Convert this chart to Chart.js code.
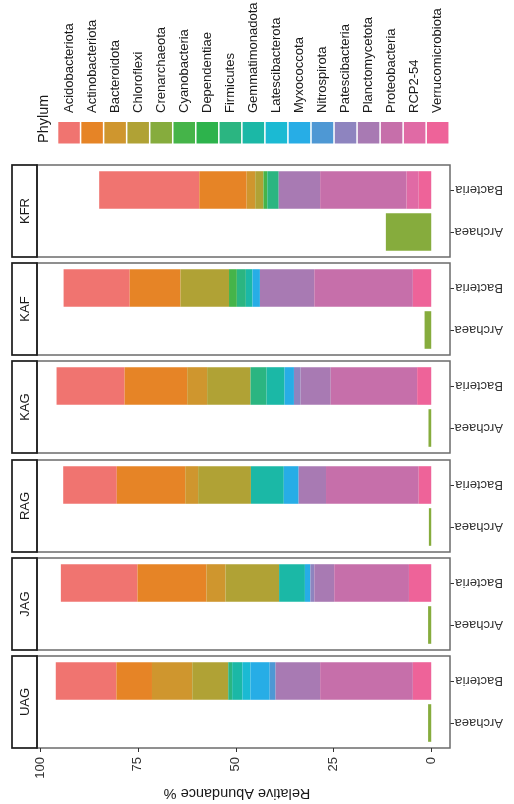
<!DOCTYPE html>
<html>
<head>
<meta charset="utf-8">
<script src="https://cdn.jsdelivr.net/npm/chart.js@4.4.1/dist/chart.umd.min.js"></script>
<style>
  html, body { margin: 0; padding: 0; background: #fff; }
  #wrap { position: relative; width: 514px; height: 804px; overflow: hidden; }
  #wrap canvas { position: absolute; left: 0; }
</style>
</head>
<body>
<div id="wrap"></div>
<script>
// phyla in legend order
const phyla = ['Acidobacteriota', 'Actinobacteriota', 'Bacteroidota', 'Chloroflexi', 'Crenarchaeota',
  'Cyanobacteria', 'Dependentiae', 'Firmicutes', 'Gemmatimonadota', 'Latescibacterota', 'Myxococcota',
  'Nitrospirota', 'Patescibacteria', 'Planctomycetota', 'Proteobacteria', 'RCP2-54', 'Verrucomicrobiota'];
const phylumColors = ['#F07470', '#E68426', '#CF962E', '#B0A235', '#86AC3D', '#45B449', '#2DB34C',
  '#2BB581', '#1BB8A6', '#1BBAD3', '#27ADE6', '#4E98D4', '#8E84BF', '#A87AB3', '#C66FAA', '#E06AA5', '#EE6399'];

// facets, top to bottom
const sites = ['KFR', 'KAF', 'KAG', 'RAG', 'JAG', 'UAG'];
const domains = ['Bacteria', 'Archaea'];
const xTicks = [0, 25, 50, 75, 100];

// bacterial relative abundance % per phylum (same order as phyla)
const bacteriaKFR = [25.6, 12.1, 2.2, 2.1, 0, 1.0, 0, 2.9, 0, 0, 0, 0, 0, 10.6, 22.1, 3.1, 3.2];
const bacteriaKAF = [16.9, 13.0, 0, 12.4, 0, 2.0, 0, 2.3, 1.7, 0, 1.9, 0, 0, 13.9, 25.2, 0, 4.7];
const bacteriaKAG = [17.4, 16.0, 5.1, 11.1, 0, 0, 0, 4.1, 4.6, 0, 2.4, 0, 1.7, 7.7, 22.1, 0, 3.6];
const bacteriaRAG = [13.7, 17.5, 3.3, 13.5, 0, 0, 0, 0, 8.4, 0, 3.8, 0, 0, 7.0, 23.7, 0, 3.2];
const bacteriaJAG = [19.6, 17.6, 4.9, 13.7, 0, 0, 0, 0, 6.6, 0, 1.4, 0, 1.0, 5.1, 19.1, 0, 5.7];
const bacteriaUAG = [15.5, 9.1, 10.3, 9.2, 0, 0, 0, 1.0, 2.6, 2.1, 4.9, 1.5, 0, 11.4, 23.7, 0, 4.7];
const bacteria = [bacteriaKFR, bacteriaKAF, bacteriaKAG, bacteriaRAG, bacteriaJAG, bacteriaUAG];

// archaea are all Crenarchaeota (same order as sites)
const archaeaCrenarchaeota = [11.6, 1.7, 0.7, 0.6, 0.8, 0.8];

const FONT = '"Liberation Sans", Arial, sans-serif';
Chart.defaults.font.family = FONT;

const panelTops = [165, 263, 361, 460, 558, 656];

const facetPlugin = {
  id: 'facet',
  afterDraw(chart, args, opts) {
    const ctx = chart.ctx, a = chart.chartArea;
    const top = a.top - 4, h = a.bottom - a.top + 8;
    ctx.save();
    ctx.strokeStyle = '#6b6b6b';
    ctx.lineWidth = 1.5;
    ctx.strokeRect(a.left, top, a.right - a.left, h);
    ctx.strokeStyle = '#1a1a1a';
    ctx.lineWidth = 1.7;
    ctx.strokeRect(12, top, a.left - 12, h);
    ctx.translate((12 + a.left) / 2, top + h / 2);
    ctx.rotate(-Math.PI / 2);
    ctx.fillStyle = '#1a1a1a';
    ctx.font = '13px ' + FONT;
    ctx.textAlign = 'center';
    ctx.textBaseline = 'middle';
    ctx.fillText(opts.label, 0, 1);
    ctx.restore();

    if (opts.axisTitle) {
      const sx = chart.scales.x;
      ctx.save();
      ctx.strokeStyle = '#333';
      ctx.lineWidth = 1;
      xTicks.forEach(v => {
        const px = Math.round(sx.getPixelForValue(v)) + 0.5;
        ctx.beginPath();
        ctx.moveTo(px, a.bottom + 4);
        ctx.lineTo(px, a.bottom + 8);
        ctx.stroke();
      });
      ctx.translate(237, 793 - opts.pageTop);
      ctx.rotate(Math.PI);
      ctx.fillStyle = '#1a1a1a';
      ctx.font = '14.5px ' + FONT;
      ctx.textAlign = 'center';
      ctx.textBaseline = 'middle';
      ctx.fillText('Relative Abundance %', 0, 0);
      ctx.restore();
    }

    if (opts.legend) {
      ctx.save();
      ctx.fillStyle = '#1a1a1a';
      ctx.font = '14.5px ' + FONT;
      ctx.textBaseline = 'middle';
      ctx.textAlign = 'left';
      ctx.translate(44, 143);
      ctx.rotate(-Math.PI / 2);
      ctx.fillText('Phylum', 0, 0);
      ctx.restore();
      phyla.forEach((name, k) => {
        const x0 = 58.3 + k * 23.04;
        ctx.save();
        ctx.fillStyle = phylumColors[k];
        ctx.fillRect(x0, 122, 21.5, 21.5);
        ctx.translate(x0 + 10.75, 113);
        ctx.rotate(-Math.PI / 2);
        ctx.fillStyle = '#1a1a1a';
        ctx.font = '13px ' + FONT;
        ctx.textAlign = 'left';
        ctx.textBaseline = 'middle';
        ctx.fillText(name, 0, 0);
        ctx.restore();
      });
    }
  }
};

const wrap = document.getElementById('wrap');

sites.forEach((site, i) => {
  const panelTop = panelTops[i];
  const isFirst = i === 0, isLast = i === sites.length - 1;
  const canvasTop = isFirst ? 0 : panelTop - 10;
  const canvasBottom = isLast ? 804 : panelTop + 102;
  const xAxisH = isLast ? 40 : 0;

  const canvas = document.createElement('canvas');
  canvas.width = 514;
  canvas.height = canvasBottom - canvasTop;
  canvas.style.top = canvasTop + 'px';
  wrap.appendChild(canvas);

  const bac = bacteria[i];
  // first dataset sits at 0 (right side), so stack in reverse legend order
  const datasets = phyla.map((name, k) => ({
    label: name,
    data: [bac[k], name === 'Crenarchaeota' ? archaeaCrenarchaeota[i] : 0],
    backgroundColor: phylumColors[k],
    borderWidth: 0,
    barPercentage: 0.895,
    categoryPercentage: 1
  })).reverse();

  new Chart(canvas, {
    type: 'bar',
    data: { labels: domains, datasets },
    options: {
      indexAxis: 'y',
      responsive: false,
      animation: false,
      events: [],
      layout: {
        padding: {
          left: 37, right: 0,
          top: panelTop + 4 - canvasTop,
          bottom: canvasBottom - panelTop - 88 - xAxisH
        }
      },
      plugins: {
        legend: { display: false },
        tooltip: { enabled: false },
        facet: { label: site, legend: isFirst, axisTitle: isLast, pageTop: canvasTop }
      },
      scales: {
        x: {
          type: 'linear', stacked: true, reverse: true, min: -4.8, max: 100.8,
          display: isLast,
          grid: { display: false, drawTicks: false },
          border: { display: false },
          afterBuildTicks: s => { s.ticks = xTicks.map(v => ({ value: v })); },
          afterFit: s => { s.height = xAxisH; s.paddingLeft = 0; s.paddingRight = 0; },
          ticks: { minRotation: 90, maxRotation: 90, padding: 13, autoSkip: false, color: '#333', font: { size: 13 } }
        },
        y: {
          type: 'category', stacked: true, position: 'right', offset: true,
          grid: { offset: false, drawOnChartArea: false, drawTicks: true, tickLength: 4, color: '#333', tickColor: '#333' },
          border: { display: false },
          afterFit: s => { s.width = 64; s.paddingTop = 0; s.paddingBottom = 0; },
          ticks: { minRotation: 180, maxRotation: 180, padding: 49, autoSkip: false, color: '#333', font: { size: 13 } }
        }
      }
    },
    plugins: [facetPlugin]
  });
});
</script>
</body>
</html>
